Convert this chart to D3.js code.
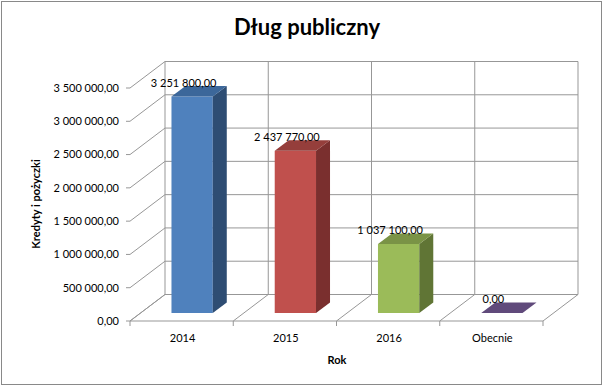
<!DOCTYPE html>
<html>
<head>
<meta charset="utf-8">
<script src="https://cdn.jsdelivr.net/npm/d3@7"></script>
<style>
  body { margin: 0; background: #fff; }
  text { font-family: Lato, "Open Sans", sans-serif; fill: #000; }
</style>
</head>
<body>
<svg id="chart" width="606" height="387"></svg>
<script>
// ! DATA
const categories = ["2014", "2015", "2016", "Obecnie"];
const values = [3251800, 2437770, 1037100, 0];
const yTicks = [0, 500000, 1000000, 1500000, 2000000, 2500000, 3000000, 3500000];
const frontColors = ["#4F81BD", "#C0504D", "#9BBB59", "#8064A2"];
const topColors = ["#3C679A", "#953E3B", "#7A9346", "#604A7B"];
const sideColors = ["#2E4D73", "#7A2F2E", "#607535", "#4C3A63"];

const svg = d3.select("#chart");
const pl = d3.formatLocale({decimal: ",", thousands: " ", grouping: [3], currency: ["", ""]});
const fmt = pl.format(",.2f");

// 3d box: front plane plus depth offset
const depth = {dx: 35, dy: -26.5};
const x = d3.scaleBand().domain(categories).range([130, 543]);
const y = d3.scaleLinear().domain([0, 3500000]).range([321, 88]);

// ! PROJECT POINT (x pixel, value, depth 0..1)
function p(px, v, d) {
  return [px + depth.dx * d, y(v) + depth.dy * d];
}
const line = d3.line();
const grid = "#979797";
const fs = "11px";

// outer frame
svg.append("rect").attr("x", 1.5).attr("y", 1.5).attr("width", 600).attr("height", 383)
  .attr("fill", "#fff").attr("stroke", "#898989");

// title
svg.append("text").attr("x", 307).attr("y", 35).attr("text-anchor", "middle")
  .style("font-size", "22px").style("font-weight", "bold").text("Dług publiczny");

const g = svg.append("g");
const x0 = x.range()[0], x1 = x.range()[1];
const bounds = categories.map(c => x(c)).concat([x1]);

// back wall horizontal gridlines + left wall diagonals + ticks
yTicks.forEach(v => {
  g.append("path").attr("d", line([p(x0, v, 1), p(x1, v, 1)])).attr("stroke", grid).attr("fill", "none");
  g.append("path").attr("d", line([p(x0 - 4, v, 0), p(x0, v, 0), p(x0, v, 1)])).attr("stroke", grid).attr("fill", "none");
  g.append("text").attr("x", 119).attr("y", y(v)).attr("dy", "0.35em").attr("text-anchor", "end")
    .style("font-size", fs).text(fmt(v));
});

// back wall verticals + floor diagonals + bottom ticks
bounds.forEach(b => {
  g.append("path").attr("d", line([p(b, 0, 1), p(b, 3500000, 1)])).attr("stroke", grid).attr("fill", "none");
  g.append("path").attr("d", line([[b, y(0) + 5], p(b, 0, 0), p(b, 0, 1)])).attr("stroke", grid).attr("fill", "none");
});
// floor front edge
g.append("path").attr("d", line([p(x0, 0, 0), p(x1, 0, 0)])).attr("stroke", grid).attr("fill", "none");

// ! BARS
const bw = x.bandwidth() * 0.4, d0 = 0.3, d1 = 0.7;
categories.forEach((c, i) => {
  const xa = x(c) + x.bandwidth() * 0.3, xb = xa + bw, v = values[i];
  const bar = g.append("g");
  // front face
  bar.append("path").attr("d", line([p(xa, 0, d0), p(xb, 0, d0), p(xb, v, d0), p(xa, v, d0)]) + "Z")
    .attr("fill", frontColors[i]);
  // side face
  bar.append("path").attr("d", line([p(xb, 0, d0), p(xb, 0, d1), p(xb, v, d1), p(xb, v, d0)]) + "Z")
    .attr("fill", sideColors[i]);
  // top face
  bar.append("path").attr("d", line([p(xa, v, d0), p(xb, v, d0), p(xb, v, d1), p(xa, v, d1)]) + "Z")
    .attr("fill", topColors[i]);
  // value label
  const lp = p(xa + bw / 2 + 2, v, d1);
  g.append("text").attr("x", lp[0] - depth.dx * d1).attr("y", lp[1] + 1).attr("text-anchor", "middle")
    .style("font-size", fs).text(fmt(v));
  // category label
  g.append("text").attr("x", x(c) + x.bandwidth() / 2 + 1).attr("y", 342).attr("text-anchor", "middle")
    .style("font-size", fs).text(c);
});

// axis titles
svg.append("text").attr("x", 337).attr("y", 364).attr("text-anchor", "middle")
  .style("font-size", fs).style("font-weight", "bold").text("Rok");
svg.append("text").attr("transform", "translate(40,204) rotate(-90)").attr("text-anchor", "middle")
  .style("font-size", fs).style("font-weight", "bold").text("Kredyty i pożyczki");
</script>
</body>
</html>
